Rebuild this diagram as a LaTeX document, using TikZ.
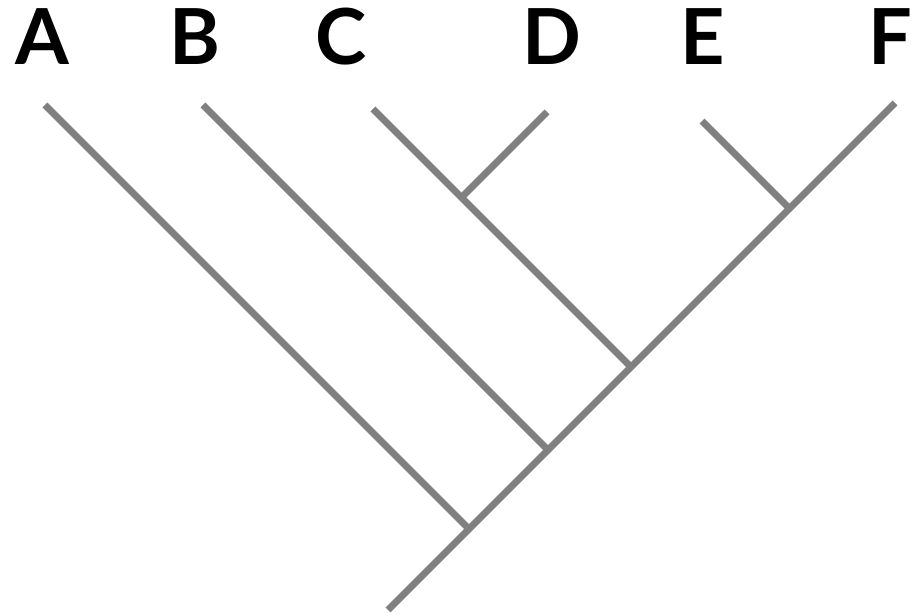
\documentclass[tikz,border=0pt]{standalone}
\usepackage{fontspec}
\setmainfont{Lato}
\usepackage{xcolor}
\usepackage{tikz}
\usetikzlibrary{positioning}

\definecolor{branchgray}{HTML}{808080}

\begin{document}
\begin{tikzpicture}[
    x=0.02cm,
    y=-0.02cm,
    font=\fontsize{44}{48}\selectfont\bfseries,
    branch/.style={draw=branchgray, line width=4pt}
]

\useasboundingbox (0,0) rectangle (916,614);

% Taxon labels
\node (labA) at (42,37) {A};
\node (labB) at (195,37) {B};
\node (labC) at (341,37) {C};
\node (labD) at (552,37) {D};
\node (labE) at (703,37) {E};
\node (labF) at (890,37) {F};

% Branch tips
\coordinate (tipA) at (45,105);
\coordinate (tipB) at (203,105);
\coordinate (tipC) at (373,109);
\coordinate (tipD) at (547,112);
\coordinate (tipE) at (702,121);
\coordinate (tipF) at (895,103);

% Root and junctions
\coordinate (root) at (388,610);
\coordinate (jA) at (469,529);
\coordinate (jB) at (548,450);
\coordinate (jC) at (631,367);
\coordinate (jE) at (789.5,208.5);
\coordinate (jD) at (461.5,197.5);

% Trunk
\draw[branch] (root) -- (tipF);

% Side branches
\draw[branch] (tipA) -- (jA);
\draw[branch] (tipB) -- (jB);
\draw[branch] (tipC) -- (jC);
\draw[branch] (tipD) -- (jD);
\draw[branch] (tipE) -- (jE);

\end{tikzpicture}
\end{document}
